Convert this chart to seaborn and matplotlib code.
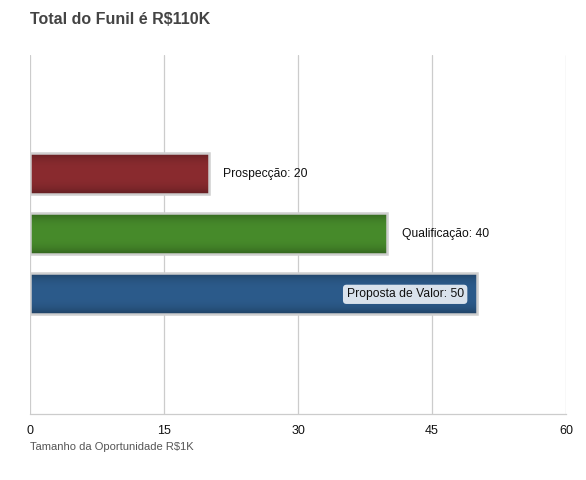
import numpy as np
import pandas as pd
import seaborn as sns
import matplotlib.pyplot as plt
from matplotlib.colors import to_rgb

# --- Data ---
stages = ['Prospecção', 'Qualificação', 'Proposta de Valor']
values = [20, 40, 50]
colors = ['#8a2b2f', '#478b2b', '#2c5b8b']
x_ticks = [0, 15, 30, 45, 60]

title = 'Total do Funil é R$110K'
x_label = 'Tamanho da Oportunidade R$1K'

df = pd.DataFrame({'stage': stages, 'value': values})

sns.set_style('white')
plt.rcParams['font.family'] = ['Liberation Sans', 'DejaVu Sans']

fig = plt.figure(figsize=(5.86, 4.8), dpi=100)
ax = fig.add_axes([30 / 586, 66 / 480, 536 / 586, 359 / 480])

sns.barplot(data=df, x='value', y='stage', hue='stage', palette=colors,
            orient='h', width=0.68, edgecolor='#cfcfcf', linewidth=1.8,
            legend=False, ax=ax, zorder=3)

# --- Gradient shading on each bar (edge stays on top) ---
t = np.linspace(0, 1, 64)
shade = 1 - 0.28 * np.abs(2 * t - 1) ** 3
for patch, col in zip(ax.patches, colors):
    x0, y0 = patch.get_x(), patch.get_y()
    w, h = patch.get_width(), patch.get_height()
    rgb = np.array(to_rgb(col))
    img = (shade[:, None, None] * rgb[None, None, :]).repeat(2, axis=1)
    im = ax.imshow(img, extent=(x0, x0 + w, y0 + h, y0), aspect='auto',
                   zorder=2.9, interpolation='bilinear')
    im.set_clip_path(patch)
    patch.set_facecolor('none')

# --- Value labels ---
for i, (name, val) in enumerate(zip(stages, values)):
    text = f'{name}: {val}'
    if val >= 45:
        ax.text(val - 1.45, i + 0.01, text, ha='right', va='center', fontsize=8.7,
                color='#111111', zorder=5,
                bbox=dict(boxstyle='round,pad=0.3,rounding_size=0.3',
                          fc='#d9e2ec', ec='none'))
    else:
        ax.text(val + 1.6, i + 0.01, text, ha='left', va='center', fontsize=8.7,
                color='#111111', zorder=5)

ax.set_xlim(0, 60)
ax.set_ylim(4.0, -1.97)
ax.set_xticks(x_ticks)
ax.set_xticklabels([str(v) for v in x_ticks], fontsize=9, color='#111111')
ax.set_yticks([])
ax.set_ylabel('')
ax.set_xlabel('')
ax.tick_params(axis='x', length=0, pad=8)
ax.grid(axis='x', color='#cccccc', linewidth=0.9, zorder=0)
for side in ['top', 'right', 'left']:
    ax.spines[side].set_visible(False)
ax.spines['bottom'].set_color('#cccccc')
ax.spines['bottom'].set_linewidth(0.9)

fig.text(30 / 586, 1 - 19 / 480, title, fontsize=11.5, fontweight='bold',
         color='#444444', ha='left', va='center')
fig.text(30 / 586, 1 - 447.5 / 480, x_label, fontsize=8, color='#555555',
         ha='left', va='center')

plt.savefig('out.png', dpi=100)
